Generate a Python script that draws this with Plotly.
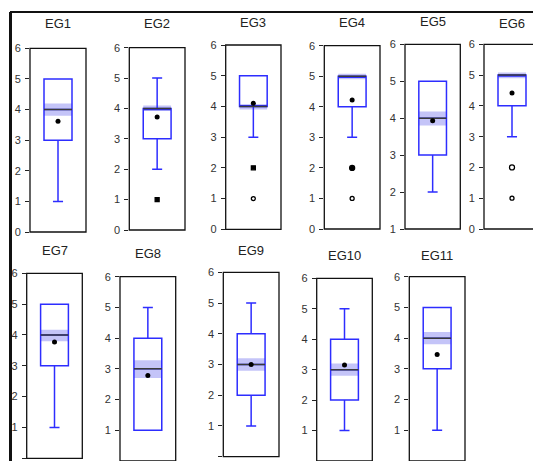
import plotly.graph_objects as go

W, H = 533, 461

groups = ["EG1", "EG2", "EG3", "EG4", "EG5", "EG6", "EG7", "EG8", "EG9", "EG10", "EG11"]
q1 = [3, 3, 4, 4, 3, 4, 3, 1, 2, 2, 3]
median = [4, 4, 4, 5, 4, 5, 4, 3, 3, 3, 4]
q3 = [5, 4, 5, 5, 5, 5, 5, 4, 4, 4, 5]
lower_whisker = [1, 2, 3, 3, 2, 3, 1, 1, 1, 1, 1]
upper_whisker = [5, 5, 5, 5, 5, 5, 5, 5, 5, 5, 5]
mean = [3.62, 3.72, 4.1, 4.22, 3.93, 4.42, 3.77, 2.78, 3.0, 3.15, 3.47]
ci_low = [3.8, 3.92, 3.9, 4.9, 3.8, 4.9, 3.8, 2.7, 2.8, 2.8, 3.8]
ci_high = [4.2, 4.1, 4.03, 5.08, 4.18, 5.08, 4.17, 3.28, 3.2, 3.2, 4.2]
outliers = [[], [1], [2, 1], [2, 1], [], [2, 1], [], [], [], [], []]
outlier_symbols = [[], ["square"], ["square", "circle-open"], ["circle", "circle-open"], [],
                   ["circle-open", "circle-open"], [], [], [], [], []]
outlier_sizes = [[], [4], [4, 4], [5, 4], [], [5, 4], [], [], [], [], []]
y_min = [0, 0, 0, 0, 1, 0, 0, 0, 0, 0, 0]
y_max = [6] * 11

# panel frames in pixels: left, right, top (value y_max), bottom (value y_min)
frame_L = [30, 129.3, 225.7, 324.3, 405, 484, 26.7, 120, 223.3, 316.7, 409.3]
frame_R = [86, 185, 281, 380, 460.3, 540, 82.3, 175.7, 279, 372.3, 465]
frame_T = [48.3, 47.7, 45, 45.7, 44.3, 44.3, 273.3, 276.7, 272.3, 278.3, 276.7]
frame_B = [232, 230, 229.3, 229, 229, 229, 458.3, 461, 456.7, 461, 461]
title_y = [24, 24, 22.7, 22.7, 21.7, 23.3, 250, 253.3, 250, 255, 255]

BOX_W = 1.0
BOX_LINE = "rgb(45,45,255)"
BAND = "rgb(196,196,248)"

fig = go.Figure()
layout = dict(width=W, height=H, margin=dict(l=0, r=0, t=0, b=0, pad=0, autoexpand=False),
              paper_bgcolor="white", plot_bgcolor="white", showlegend=False)
shapes = []
annotations = []

for i, g in enumerate(groups):
    n = "" if i == 0 else str(i + 1)
    xa, ya = "x" + n, "y" + n
    L, R, T, B = frame_L[i], frame_R[i], frame_T[i], frame_B[i]
    full_w = R - L
    right_px = min(R, W)
    xr = [-1, -1 + (right_px - L) * 2 / full_w]
    per_unit = (B - T) / (y_max[i] - y_min[i])
    bottom_px = min(B, H)
    yr0 = y_min[i] + (B - bottom_px) / per_unit
    layout["xaxis" + n] = dict(domain=[L / W, right_px / W], range=xr, visible=False,
                               anchor=ya, fixedrange=True, automargin=False)
    layout["yaxis" + n] = dict(domain=[1 - bottom_px / H, 1 - T / H], range=[yr0, y_max[i]],
                               anchor=xa, showgrid=False, zeroline=False, showline=False,
                               automargin=False,
                               ticks="outside", ticklen=4, tickwidth=1, tickcolor="#222",
                               tickvals=list(range(0, 7)), ticklabelstandoff=2,
                               tickfont=dict(family="Liberation Sans, Arial", size=11, color="#333"),
                               fixedrange=True)
    # median confidence band
    fig.add_trace(go.Bar(x=[0], y=[ci_high[i] - ci_low[i]], base=[ci_low[i]], width=BOX_W,
                         marker=dict(color=BAND, line=dict(width=0)), xaxis=xa, yaxis=ya,
                         hoverinfo="skip"))
    # box
    fig.add_trace(go.Box(x=[0], q1=[q1[i]], median=[median[i]], q3=[q3[i]],
                         lowerfence=[lower_whisker[i]], upperfence=[upper_whisker[i]],
                         width=BOX_W, whiskerwidth=0.36, fillcolor="rgba(0,0,0,0)",
                         line=dict(color=BOX_LINE, width=1.5), boxpoints=False,
                         xaxis=xa, yaxis=ya, name=g))
    # median line
    fig.add_trace(go.Scatter(x=[-BOX_W / 2, BOX_W / 2], y=[median[i], median[i]], mode="lines",
                             line=dict(color="#3a3a3a", width=1.5), xaxis=xa, yaxis=ya,
                             hoverinfo="skip"))
    # mean
    fig.add_trace(go.Scatter(x=[0], y=[mean[i]], mode="markers",
                             marker=dict(color="black", size=5), xaxis=xa, yaxis=ya))
    # outliers
    if outliers[i]:
        fig.add_trace(go.Scatter(x=[0] * len(outliers[i]), y=outliers[i], mode="markers",
                                 marker=dict(color="black", size=outlier_sizes[i],
                                             symbol=outlier_symbols[i], opacity=1,
                                             line=dict(color="black", width=1.3)),
                                 xaxis=xa, yaxis=ya))
    # frame
    shapes.append(dict(type="rect", xref="paper", yref="paper", x0=L / W, x1=R / W,
                       y0=1 - B / H, y1=1 - T / H, line=dict(color="#111", width=1.3),
                       fillcolor="rgba(0,0,0,0)", layer="above"))
    annotations.append(dict(text=g, xref="paper", yref="paper", x=(L + R) / 2 / W,
                            y=1 - title_y[i] / H, showarrow=False, xanchor="center",
                            yanchor="middle",
                            font=dict(family="Liberation Sans, Arial", size=13, color="#222")))

# outer frame (top and left edges)
shapes.append(dict(type="line", xref="paper", yref="paper", x0=10 / W, x1=1.02,
                   y0=1 - 12 / H, y1=1 - 12 / H, line=dict(color="#111", width=2)))
shapes.append(dict(type="line", xref="paper", yref="paper", x0=10.5 / W, x1=10.5 / W,
                   y0=1 - 12 / H, y1=-0.02, line=dict(color="#111", width=3)))

layout["shapes"] = shapes
layout["annotations"] = annotations
fig.update_layout(**layout)
fig.write_html("out.html", config={"displayModeBar": False, "staticPlot": True},
               post_script="document.body.style.margin='0';document.body.style.overflow='hidden';")
